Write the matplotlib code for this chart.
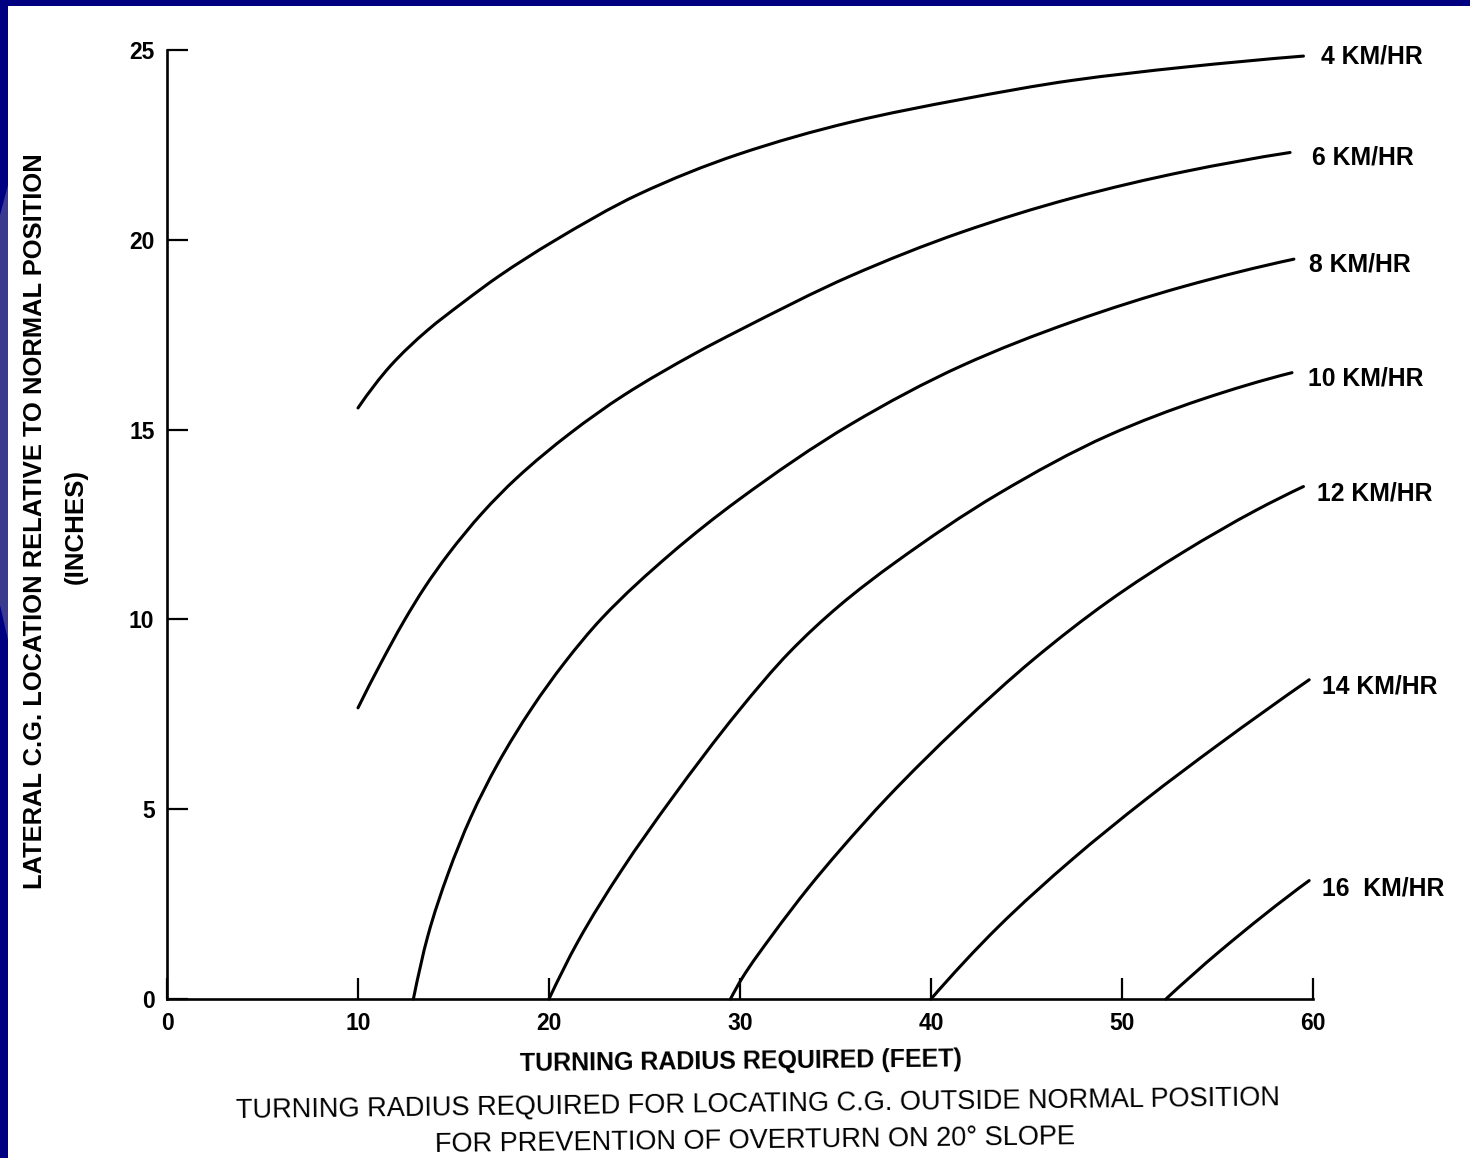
import matplotlib
matplotlib.use("Agg")
import numpy as np
import matplotlib.pyplot as plt
from matplotlib.patches import Rectangle, Polygon, PathPatch
from matplotlib.path import Path

# ---------------- data ----------------
speed_labels = ["4 KM/HR", "6 KM/HR", "8 KM/HR", "10 KM/HR", "12 KM/HR", "14 KM/HR", "16  KM/HR"]

radius_4 = [10.0, 11.7, 13.6, 15.5, 17.4, 20.2, 24.7, 29.9, 35.8, 41.6, 47.4, 53.3, 59.5]
cg_4 = [15.57, 16.68, 17.6, 18.35, 19.05, 19.95, 21.2, 22.25, 23.1, 23.7, 24.2, 24.55, 24.84]

radius_6 = [10.0, 11.2, 12.4, 13.5, 14.7, 16.5, 18.3, 21.1, 23.9, 27.7, 29.9, 35.8, 41.6, 47.4, 53.3, 58.8]
cg_6 = [7.67, 8.85, 9.95, 10.85, 11.7, 12.8, 13.72, 14.9, 15.9, 17.02, 17.6, 19.05, 20.2, 21.1, 21.8, 22.3]

radius_8 = [12.9, 13.65, 14.7, 15.9, 17.3, 19.1, 20.8, 22.75, 26.4, 29.9, 35.8, 41.6, 47.4, 53.3, 59.0]
cg_8 = [0.0, 1.65, 3.28, 4.78, 6.18, 7.66, 8.85, 10.02, 11.74, 13.14, 15.14, 16.68, 17.84, 18.78, 19.49]

radius_10 = [20.0, 21.5, 23.8, 26.4, 29.9, 32.6, 35.2, 38.1, 43.5, 49.3, 54.2, 58.9]
cg_10 = [0.0, 1.5, 3.39, 5.26, 7.57, 9.14, 10.36, 11.49, 13.3, 14.85, 15.8, 16.5]

radius_12 = [29.5, 30.1, 31.7, 33.6, 35.2, 37.7, 41.5, 45.4, 49.3, 53.2, 57.0, 59.5]
cg_12 = [0.0, 0.54, 1.69, 2.94, 3.9, 5.3, 7.2, 8.96, 10.48, 11.77, 12.87, 13.5]

radius_14 = [40.0, 43.5, 47.4, 51.2, 55.1, 59.8]
cg_14 = [0.0, 1.89, 3.68, 5.24, 6.72, 8.41]

radius_16 = [52.3, 55.1, 59.8]
cg_16 = [0.0, 1.25, 3.12]

x_ticks = [0, 10, 20, 30, 40, 50, 60]
y_ticks = [0, 5, 10, 15, 20, 25]

x_label = "TURNING RADIUS REQUIRED (FEET)"
y_label = "LATERAL C.G. LOCATION RELATIVE TO NORMAL POSITION"
y_unit = "(INCHES)"
caption_1 = "TURNING RADIUS REQUIRED FOR LOCATING C.G. OUTSIDE NORMAL POSITION"
caption_2 = "FOR PREVENTION OF OVERTURN ON 20° SLOPE"


def smooth_path(xs, ys):
    """Cubic Hermite (monotone tangents) through the given points, as Bezier path."""
    x = np.asarray(xs, float)
    y = np.asarray(ys, float)
    h = np.diff(x)
    d = np.diff(y) / h
    m = np.zeros_like(x)
    m[0], m[-1] = d[0], d[-1]
    for i in range(1, len(x) - 1):
        if d[i - 1] * d[i] <= 0:
            m[i] = 0.0
        else:
            w1 = 2 * h[i] + h[i - 1]
            w2 = h[i] + 2 * h[i - 1]
            m[i] = (w1 + w2) / (w1 / d[i - 1] + w2 / d[i])
    if len(x) > 2:
        m[0] = ((2 * h[0] + h[1]) * d[0] - h[0] * d[1]) / (h[0] + h[1])
        if m[0] * d[0] <= 0:
            m[0] = 0
        m[-1] = ((2 * h[-1] + h[-2]) * d[-1] - h[-1] * d[-2]) / (h[-1] + h[-2])
        if m[-1] * d[-1] <= 0:
            m[-1] = 0
    verts = [(x[0], y[0])]
    codes = [Path.MOVETO]
    for i in range(len(x) - 1):
        verts += [(x[i] + h[i] / 3, y[i] + m[i] * h[i] / 3),
                  (x[i + 1] - h[i] / 3, y[i + 1] - m[i + 1] * h[i] / 3),
                  (x[i + 1], y[i + 1])]
        codes += [Path.CURVE4] * 3
    return Path(verts, codes)


# ---------------- figure ----------------
W, H = 1470, 1158
FONT = ["Liberation Sans", "DejaVu Sans"]

fig = plt.figure(figsize=(W / 100, H / 100), dpi=100, facecolor="#000080")
fig.patches.append(Rectangle((8 / W, 0), 1, 1 - 6 / H, transform=fig.transFigure,
                             facecolor="white", edgecolor="none", zorder=-10))
fig.patches.append(Polygon([(0, 1 - 215 / H), (8 / W, 1 - 185 / H), (8 / W, 1 - 640 / H),
                            (0, 1 - 605 / H)], closed=True, transform=fig.transFigure,
                           facecolor="#3a3a8f", edgecolor="none", zorder=-9))

left_px, right_px, top_px, bottom_px = 167, 1313, 50, 999
ax = fig.add_axes([left_px / W, 1 - bottom_px / H,
                   (right_px - left_px) / W, (bottom_px - top_px) / H])
ax.set_facecolor("none")

series = [(radius_4, cg_4), (radius_6, cg_6), (radius_8, cg_8), (radius_10, cg_10),
          (radius_12, cg_12), (radius_14, cg_14), (radius_16, cg_16)]
label_offsets = [(18, 0), (22, -5), (15, -5), (16, -6), (14, -7), (13, -7), (13, -8)]

for (xs, ys), lab, off in zip(series, speed_labels, label_offsets):
    patch = PathPatch(smooth_path(xs, ys), facecolor="none", edgecolor="black",
                      lw=2.2, capstyle="round", joinstyle="round", clip_on=False)
    ax.add_patch(patch)
    ax.annotate(lab, xy=(xs[-1], ys[-1]), xytext=off, textcoords="offset pixels",
                ha="left", va="center", fontsize=17.8, fontweight="bold",
                family=FONT, color="black")

ax.set_xlim(0, 60)
ax.set_ylim(0, 25)
ax.set_xticks(x_ticks)
ax.set_yticks(y_ticks)
ax.set_xticklabels([str(v) for v in x_ticks])
ax.set_yticklabels([str(v) for v in y_ticks])
for s in ["top", "right"]:
    ax.spines[s].set_visible(False)
for s in ["left", "bottom"]:
    ax.spines[s].set_linewidth(1.9)
    ax.spines[s].set_color("black")
ax.tick_params(axis="both", direction="in", length=15, width=1.6, color="black")
ax.tick_params(axis="y", pad=9)
ax.tick_params(axis="x", pad=9)
for t in ax.get_xticklabels() + ax.get_yticklabels():
    t.set_fontfamily(FONT)
    t.set_fontweight("bold")
    t.set_fontsize(16.5)

# axis titles and caption
fig.text(741 / W, 1 - 1062 / H, x_label, ha="center", va="center", fontsize=18,
         fontweight="bold", family=FONT, rotation=0.6)
fig.text(35 / W, 1 - 521 / H, y_label, ha="center", va="center", fontsize=18.4,
         fontweight="bold", family=FONT, rotation=90)
fig.text(76 / W, 1 - 527 / H, y_unit, ha="center", va="center", fontsize=18.6,
         fontweight="bold", family=FONT, rotation=90)
fig.text(758 / W, 1 - 1105 / H, caption_1, ha="center", va="center", fontsize=19.5,
         family=FONT, rotation=0.7)
fig.text(755 / W, 1 - 1141 / H, caption_2, ha="center", va="center", fontsize=19.5,
         family=FONT, rotation=0.7)

fig.savefig("out.png", dpi=100, facecolor=fig.get_facecolor())
